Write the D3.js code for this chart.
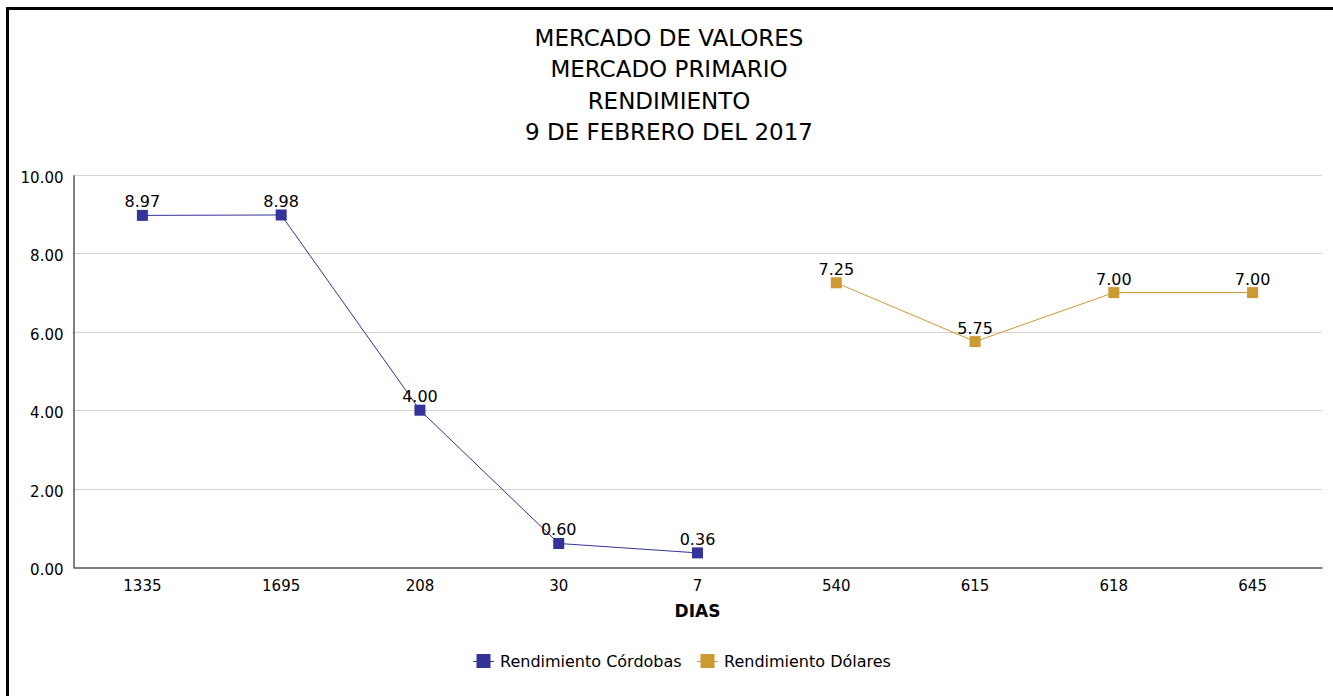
<!DOCTYPE html>
<html>
<head>
<meta charset="utf-8">
<script src="https://cdn.jsdelivr.net/npm/d3@7"></script>
<style>
  body { margin: 0; background: #fff; }
  svg text { font-family: Tahoma, "DejaVu Sans", sans-serif; fill: #000; }
</style>
</head>
<body>
<svg id="chart" width="1333" height="696"></svg>
<script>
// chart data
var titleLines = ["MERCADO DE VALORES", "MERCADO PRIMARIO", "RENDIMIENTO", "9 DE FEBRERO DEL 2017"];
var dias = ["1335", "1695", "208", "30", "7", "540", "615", "618", "645"];
var cordobas = [8.97, 8.98, 4.00, 0.60, 0.36, null, null, null, null];
var dolares = [null, null, null, null, null, 7.25, 5.75, 7.00, 7.00];
var yTicks = [0, 2, 4, 6, 8, 10];

var series = [
  { name: "Rendimiento Córdobas", values: cordobas, color: "#333399" },
  { name: "Rendimiento Dólares", values: dolares, color: "#CC9933" }
];

var svg = d3.select("#chart");
var margin = { top: 175, left: 73, right: 11, bottom: 129 };
var W = 1333, H = 696;

// outer frame (left + top edges visible)
svg.append("rect")
  .attr("x", 7.5).attr("y", 8.5)
  .attr("width", 1400).attr("height", 800)
  .attr("fill", "none").attr("stroke", "#000").attr("stroke-width", 3);

// title
svg.append("g").selectAll("text")
  .data(titleLines)
  .enter().append("text")
  .attr("x", 669)
  .attr("y", function (d, i) { return 46 + i * 31.4; })
  .attr("text-anchor", "middle")
  .style("font-size", "23px")
  .text(function (d) { return d; });

var x = d3.scaleBand().domain(dias).range([margin.left, W - margin.right]);
var y = d3.scaleLinear().domain([0, 10]).range([H - margin.bottom, margin.top]);

// gridlines
svg.append("g").selectAll("line")
  .data(yTicks.filter(function (d) { return d > 0; }))
  .enter().append("line")
  .attr("x1", margin.left).attr("x2", W - margin.right)
  .attr("y1", function (d) { return Math.round(y(d)) + 0.5; })
  .attr("y2", function (d) { return Math.round(y(d)) + 0.5; })
  .attr("stroke", "#d4d4d4").attr("stroke-width", 1);

// y axis
var yAxis = svg.append("g")
  .attr("transform", "translate(" + (margin.left + 0.5) + ",0)")
  .call(d3.axisLeft(y).tickValues(yTicks).tickSize(0).tickPadding(10)
    .tickFormat(d3.format(".2f")));
yAxis.select(".domain").attr("stroke", "#000");
yAxis.selectAll("text").style("font-size", "15px").attr("dy", "0.5em");

// x axis
var xAxis = svg.append("g")
  .attr("transform", "translate(0," + (Math.round(y(0)) + 0.5) + ")")
  .call(d3.axisBottom(x).tickSize(0).tickPadding(13));
xAxis.select(".domain").attr("stroke", "#000");
xAxis.selectAll("text").style("font-size", "15px");

svg.append("text")
  .attr("x", x("7") + x.bandwidth() / 2)
  .attr("y", 617)
  .attr("text-anchor", "middle")
  .style("font-size", "17px").style("font-weight", "bold")
  .text("DIAS");

// lines, markers, labels
var cx = function (i) { return x(dias[i]) + x.bandwidth() / 2; };
var line = d3.line()
  .defined(function (d) { return d != null; })
  .x(function (d, i) { return cx(i); })
  .y(function (d) { return y(d); });

series.forEach(function (s) {
  var g = svg.append("g");
  g.append("path")
    .attr("d", line(s.values))
    .attr("fill", "none").attr("stroke", s.color).attr("stroke-width", 1);

  var pts = s.values.map(function (v, i) { return { v: v, i: i }; })
    .filter(function (d) { return d.v != null; });

  g.selectAll("rect").data(pts).enter().append("rect")
    .attr("x", function (d) { return cx(d.i) - 5.5; })
    .attr("y", function (d) { return y(d.v) - 5.5; })
    .attr("width", 11).attr("height", 11)
    .attr("fill", s.color);

  g.selectAll("text").data(pts).enter().append("text")
    .attr("x", function (d) { return cx(d.i); })
    .attr("y", function (d) { return y(d.v) - 8; })
    .attr("text-anchor", "middle")
    .style("font-size", "16px")
    .text(function (d) { return d.v.toFixed(2); });
});

// legend
var legend = svg.append("g").attr("transform", "translate(0,661)");
var lx = [473, 697];
series.forEach(function (s, i) {
  var lg = legend.append("g").attr("transform", "translate(" + lx[i] + ",0)");
  lg.append("line").attr("x1", 0).attr("x2", 21).attr("y1", 0.5).attr("y2", 0.5)
    .attr("stroke", s.color).attr("stroke-width", 1);
  lg.append("rect").attr("x", 3.5).attr("y", -7).attr("width", 14).attr("height", 14)
    .attr("fill", s.color);
  lg.append("text").attr("x", 27).attr("y", 0).attr("dy", "0.36em")
    .style("font-size", "16px").text(s.name);
});
</script>
</body>
</html>
